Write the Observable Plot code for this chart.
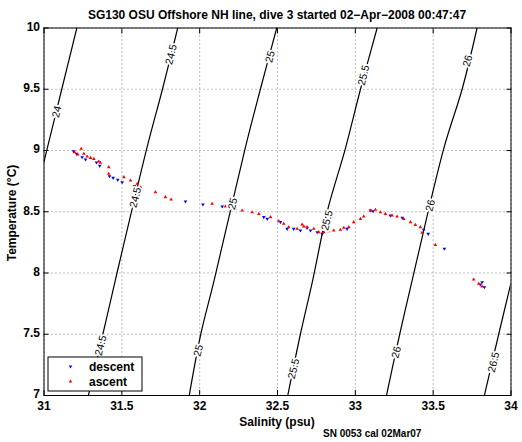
<!DOCTYPE html>
<html><head><meta charset="utf-8">
<script src="https://cdn.jsdelivr.net/npm/d3@7"></script>
<script src="https://cdn.jsdelivr.net/npm/@observablehq/plot@0.6"></script>
<style>body{margin:0;background:#fff} svg{display:block}</style>
</head><body><div id="chart"></div>
<script>
// ---- text ----
const titleText = "SG130 OSU Offshore NH line, dive 3 started 02\u2212Apr\u22122008 00:47:47";
const xLabel = "Salinity (psu)";
const yLabel = "Temperature (\u00B0C)";
const captionText = "SN 0053 cal 02Mar07";
const legendNames = ["descent", "ascent"];
const xTicks = [31, 31.5, 32, 32.5, 33, 33.5, 34];
const yTicks = [7, 7.5, 8, 8.5, 9, 9.5, 10];

// ---- density (sigma-theta) contours ----
const isoLevels = ["24", "24.5", "25", "25.5", "26", "26.5"];
const isoT = [
  [8.91, 9.5, 10],
  [7, 7.5, 7.94, 9.016, 9.5, 10],
  [7, 7.5, 7.94, 9.016, 9.5, 10],
  [7, 7.5, 7.94, 8.5, 9.016, 9.5, 10],
  [7, 7.5, 7.94, 9.016, 9.5, 10],
  [7, 7.5, 7.92]
];
const isoS = [
  [31.0, 31.114, 31.211],
  [31.285, 31.378, 31.458, 31.660, 31.761, 31.859],
  [31.933, 32.007, 32.093, 32.292, 32.39, 32.495],
  [32.566, 32.647, 32.726, 32.819, 32.936, 33.033, 33.14],
  [33.2, 33.285, 33.365, 33.568, 33.686, 33.782],
  [33.829, 33.921, 34.0]
];
// contour label positions
const labelLevel = ["24", "24.5", "24.5", "24.5", "25", "25", "25", "25.5", "25.5", "25.5", "26", "26", "26", "26.5"];
const labelS = [31.082, 31.817, 31.588, 31.365, 32.453, 32.213, 31.992, 33.054, 32.819, 32.604, 33.722, 33.482, 33.264, 33.889];
const labelT = [9.316, 9.784, 8.617, 7.408, 9.765, 8.565, 7.367, 9.615, 8.43, 7.218, 9.732, 8.551, 7.353, 7.272];

// ---- descent profile ----
const descS = [31.19, 31.21, 31.245, 31.267, 31.337, 31.358, 31.421, 31.444, 31.474, 31.502, 31.581, 31.909, 32.021, 32.145, 32.198,
  32.412, 32.434, 32.519, 32.562, 32.604, 32.647, 32.69, 32.712, 32.755, 32.787, 32.947, 33.097, 33.114, 33.225, 33.301,
  33.439, 33.468, 33.572, 33.803, 33.814, 33.829];
const descT = [8.994, 8.973, 8.945, 8.927, 8.902, 8.875, 8.79, 8.777, 8.761, 8.741, 8.709, 8.584, 8.559, 8.543, 8.524,
  8.456, 8.442, 8.415, 8.361, 8.361, 8.347, 8.369, 8.347, 8.333, 8.32, 8.361, 8.51, 8.504, 8.469, 8.451,
  8.353, 8.32, 8.198, 7.906, 7.925, 7.884];
// ---- ascent profile ----
const ascS = [31.239, 31.196, 31.217, 31.256, 31.277, 31.299, 31.32, 31.352, 31.363, 31.416, 31.416, 31.513, 31.556, 31.599, 31.62,
  31.716, 31.78, 31.817, 32.08, 32.166, 32.23, 32.273, 32.337, 32.38, 32.455, 32.508, 32.54, 32.572, 32.626, 32.658,
  32.669, 32.69, 32.733, 32.765, 32.797, 32.829, 32.861, 32.904, 32.926, 32.958, 32.99, 33.033, 33.054, 33.097, 33.129,
  33.161, 33.193, 33.236, 33.268, 33.311, 33.354, 33.386, 33.418, 33.429, 33.514, 33.76, 33.793, 33.814];
const ascT = [9.014, 8.986, 8.967, 8.973, 8.951, 8.94, 8.932, 8.91, 8.9, 8.864, 8.81, 8.782, 8.755, 8.728, 8.7,
  8.66, 8.619, 8.6, 8.565, 8.543, 8.524, 8.51, 8.496, 8.483, 8.456, 8.423, 8.402, 8.374, 8.361, 8.396,
  8.38, 8.374, 8.361, 8.333, 8.333, 8.341, 8.347, 8.353, 8.369, 8.374, 8.415, 8.442, 8.461, 8.51, 8.516,
  8.496, 8.483, 8.469, 8.461, 8.442, 8.415, 8.393, 8.374, 8.328, 8.23, 7.947, 7.912, 7.89];

const blue = "#0000ff", red = "#ff0000";
const font = "'Liberation Sans', Arial, Helvetica, sans-serif";

const isoRows = isoLevels.flatMap((lev, k) => isoT[k].map((t, i) => ({level: lev, S: isoS[k][i], T: t})));
const labelRows = labelLevel.map((lev, i) => ({level: lev, S: labelS[i], T: labelT[i]}));
const descRows = descS.map((s, i) => ({S: s, T: descT[i]}));
const ascRows = ascS.map((s, i) => ({S: s, T: ascT[i]}));

const W = 522, H = 442;
const mL = 43.5, mR = 11.5, mT = 27.5, mB = 47;
const R = 1.35;

const plot = Plot.plot({
  width: W, height: H,
  marginLeft: mL, marginRight: mR, marginTop: mT, marginBottom: mB,
  style: {fontFamily: font, fontSize: "12px", fontWeight: "bold", color: "black", background: "white"},
  x: {domain: [31, 34]},
  y: {domain: [7, 10]},
  marks: [
    Plot.gridX(xTicks, {stroke: "#000", strokeOpacity: 0.5, strokeDasharray: "1,3"}),
    Plot.gridY(yTicks, {stroke: "#000", strokeOpacity: 0.5, strokeDasharray: "1,3"}),
    Plot.line(isoRows, {x: "S", y: "T", z: "level", stroke: "black", strokeWidth: 1.2, curve: "catmull-rom", clip: true}),
    Plot.dot(descRows, {x: "S", y: "T", symbol: "triangle", r: R, fill: blue, rotate: 180}),
    Plot.dot(ascRows, {x: "S", y: "T", symbol: "triangle", r: R, fill: red}),
    Plot.text(labelRows, {x: "S", y: "T", text: "level", rotate: -76, fontSize: 10.5, fontWeight: "normal", fill: "black", stroke: "white", strokeWidth: 3.5}),
    Plot.axisX(xTicks, {anchor: "bottom", tickSize: 0, tickPadding: 6, tickFormat: d => String(d), label: null}),
    Plot.axisY(yTicks, {anchor: "left", tickSize: 0, tickPadding: 4, dy: -1, tickFormat: d => String(d), label: null}),
    Plot.axisX(xTicks, {anchor: "bottom", tickSize: -5, text: null, label: null}),
    Plot.axisX(xTicks, {anchor: "top", tickSize: -5, text: null, label: null}),
    Plot.axisY(yTicks, {anchor: "left", tickSize: -5, text: null, label: null}),
    Plot.axisY(yTicks, {anchor: "right", tickSize: -5, text: null, label: null}),
    Plot.frame({stroke: "black", strokeWidth: 1})
  ]
});
document.getElementById("chart").appendChild(plot);

const svg = d3.select(plot);
const cx = mL + (W - mL - mR) / 2;
function addText(x, y, str, opts = {}) {
  const t = svg.append("text").attr("x", x).attr("y", y).text(str)
    .attr("font-family", font).attr("font-size", opts.size || 12)
    .attr("font-weight", opts.weight || "bold").attr("fill", "black")
    .attr("text-anchor", opts.anchor || "middle");
  if (opts.rotate) t.attr("transform", `rotate(${opts.rotate},${x},${y})`);
  return t;
}
addText(cx, 19, titleText);
addText(cx, 426, xLabel);
addText(16, 213, yLabel, {rotate: -90});
addText(323, 437, captionText, {size: 10, anchor: "start"});

// legend
const lg = svg.append("g");
lg.append("rect").attr("x", 48).attr("y", 357).attr("width", 94).attr("height", 34)
  .attr("fill", "white").attr("stroke", "black").attr("stroke-width", 1);
const sym = d3.symbol(d3.symbolTriangle, Math.PI * R * R);
lg.append("path").attr("d", sym()).attr("fill", blue).attr("transform", "translate(70.5,366.5) rotate(180)");
lg.append("path").attr("d", sym()).attr("fill", red).attr("transform", "translate(70.5,381.5)");
addText(89, 370.5, legendNames[0], {anchor: "start"});
addText(89, 385.5, legendNames[1], {anchor: "start"});
</script>
</body></html>
